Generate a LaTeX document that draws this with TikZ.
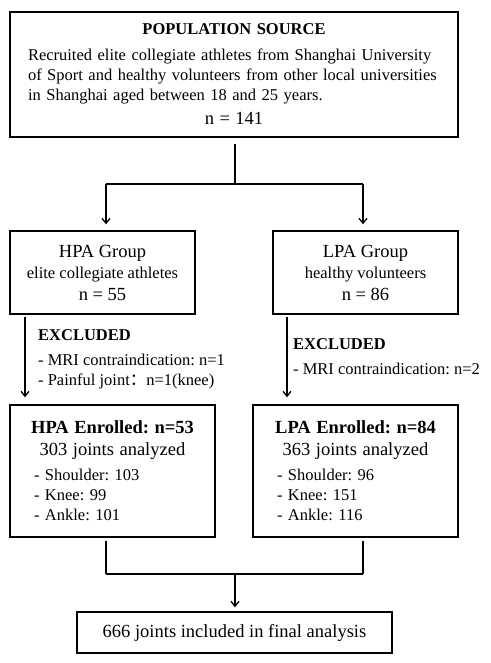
\documentclass[tikz,border=0pt]{standalone}
\usepackage{fontspec}
\setmainfont{Liberation Serif}
\newfontfamily\cjk{Noto Sans CJK SC}
\usetikzlibrary{positioning, arrows.meta}
\newcommand{\lgsize}{\fontsize{18.5}{22}\selectfont}
\newcommand{\bodysize}{\fontsize{16.5}{20}\selectfont\frenchspacing}

\begin{document}
\begin{tikzpicture}[
  x=1pt, y=-1pt,
  box/.style={rectangle, draw, line width=1.3pt, align=center, inner sep=0pt, font=\bodysize},
  note/.style={anchor=north west, align=left, inner sep=0pt, font=\bodysize},
  link/.style={line width=1.3pt},
  arr/.style={line width=1.3pt, -{Straight Barb[length=5pt,width=8pt]}}
]
\useasboundingbox (0,0) rectangle (490,663);

\node[box, minimum width=448pt, minimum height=125pt, text width=412pt] (src) at (234,74.5)
  {{\bfseries POPULATION SOURCE\par}\vspace{6pt}
   {\raggedright Recruited elite collegiate athletes from Shanghai University\\
    of Sport and healthy volunteers from other local universities\\
    in Shanghai aged between 18 and 25 years.\par}\vspace{2pt}
   {\lgsize n = 141\par}};
\node[box, minimum width=185pt, minimum height=83pt] (hpa) at (102.5,272.5)
  {{\lgsize HPA Group}\\[1pt] elite collegiate athletes\\[2pt] {\lgsize n = 55}};
\node[box, minimum width=185pt, minimum height=83pt] (lpa) at (365.5,272.5)
  {{\lgsize LPA Group}\\[1pt] healthy volunteers\\[2pt] {\lgsize n = 86}};

\node[note] (hpaExcl) at (38,329)
  {\textbf{EXCLUDED}\\[5pt] - MRI contraindication: n=1\\ - Painful joint{\cjk ：}n=1(knee)};
\node[note] (lpaExcl) at (293,338)
  {\textbf{EXCLUDED}\\[5pt] - MRI contraindication: n=2};

\node[box, minimum width=205pt, minimum height=132pt, text width=181pt] (hpaEnr) at (112.5,471)
  {{\lgsize\bfseries HPA Enrolled: n=53\par}
   {\lgsize 303 joints analyzed\par}\vspace{5pt}
   {\raggedright\leftskip=12pt - Shoulder: 103\\ - Knee: 99\\ - Ankle: 101\par}};
\node[box, minimum width=205pt, minimum height=132pt, text width=181pt] (lpaEnr) at (355.5,471)
  {{\lgsize\bfseries LPA Enrolled: n=84\par}
   {\lgsize 363 joints analyzed\par}\vspace{5pt}
   {\raggedright\leftskip=12pt - Shoulder: 96\\ - Knee: 151\\ - Ankle: 116\par}};

\node[box, minimum width=315pt, minimum height=41pt] (final) at (234.5,632.5)
  {\lgsize 666 joints included in final analysis};

% split and merge points
\coordinate (split) at (235,184);
\coordinate (splitL) at (106,184);
\coordinate (splitR) at (363,184);
\coordinate (merge) at (235,574);
\coordinate (mergeL) at (106,574);
\coordinate (mergeR) at (363,574);

\draw[link, shorten <=6pt] (src.south -| split) -- (split);
\draw[link] (splitL) -- (splitR);
\draw[arr, shorten >=6pt] (splitL) -- (splitL |- hpa.north);
\draw[arr, shorten >=6pt] (splitR) -- (splitR |- lpa.north);

\draw[arr, shorten <=2pt, shorten >=7pt] (25,0 |- hpa.south) -- (25,0 |- hpaEnr.north);
\draw[arr, shorten <=2pt, shorten >=7pt] (287,0 |- lpa.south) -- (287,0 |- lpaEnr.north);

\draw[link, shorten <=3pt] (mergeL |- hpaEnr.south) -- (mergeL);
\draw[link, shorten <=3pt] (mergeR |- lpaEnr.south) -- (mergeR);
\draw[link] (mergeL) -- (mergeR);
\draw[arr, shorten >=4pt] (merge) -- (final.north -| merge);
\end{tikzpicture}
\end{document}
